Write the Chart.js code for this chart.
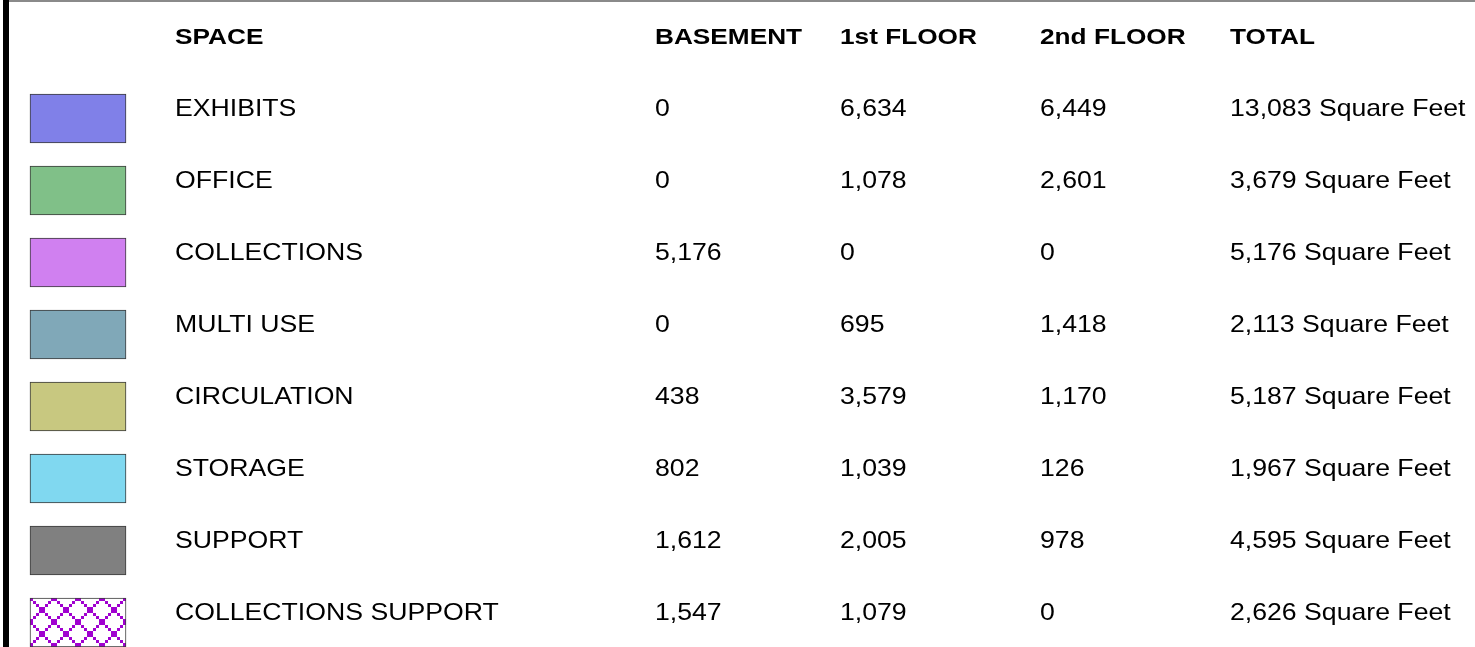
<!DOCTYPE html>
<html>
<head>
<meta charset="utf-8">
<script src="https://cdn.jsdelivr.net/npm/chart.js@4.4.1/dist/chart.umd.min.js"></script>
<style>
html,body{margin:0;padding:0;background:#ffffff;overflow:hidden}
canvas{display:block}
</style>
</head>
<body>
<canvas id="c" width="1475" height="647"></canvas>
<script>
// ---- data ----
const columnHeaders = ['SPACE', 'BASEMENT', '1st FLOOR', '2nd FLOOR', 'TOTAL'];
const spaces = ['EXHIBITS', 'OFFICE', 'COLLECTIONS', 'MULTI USE', 'CIRCULATION', 'STORAGE', 'SUPPORT', 'COLLECTIONS SUPPORT'];
const basement    = [0, 0, 5176, 0, 438, 802, 1612, 1547];
const firstFloor  = [6634, 1078, 0, 695, 3579, 1039, 2005, 1079];
const secondFloor = [6449, 2601, 0, 1418, 1170, 126, 978, 0];
const total       = [13083, 3679, 5176, 2113, 5187, 1967, 4595, 2626];
const totalUnit = 'Square Feet';

// ---- styles ----
const swatchColors = ['#8080E8', '#80C088', '#D080F0', '#80A8B8', '#C8C880', '#80D8F0', '#808080', 'pattern'];

function makeLattice() {
  const p = document.createElement('canvas');
  p.width = 24; p.height = 24;
  const g = p.getContext('2d');
  g.fillStyle = '#ffffff';
  g.fillRect(0, 0, 24, 24);
  g.fillStyle = '#A000D0';
  for (let i = 0; i < 8; i++) {
    g.fillRect(i * 3, i * 3, 3, 3);
    g.fillRect(21 - i * 3, i * 3, 3, 3);
  }
  const ctx = document.getElementById('c').getContext('2d');
  const pat = ctx.createPattern(p, 'repeat');
  if (pat.setTransform) pat.setTransform(new DOMMatrix().translateSelf(30, 598));
  return pat;
}
const lattice = makeLattice();

const layoutCfg = {
  columnX: [175, 655, 840, 1040, 1230],
  regularFont: '24px "Liberation Sans", Arial, Helvetica, sans-serif',
  regularStretch: 1.11,
  boldFont: 'bold 22.5px "Liberation Sans", Arial, Helvetica, sans-serif',
  boldStretch: 1.165,
  baselineShift: -3
};

function fmt(n) { return n.toLocaleString('en-US'); }

function drawStretched(ctx, text, x, y, sx) {
  ctx.save();
  ctx.translate(x, y);
  ctx.scale(sx, 1);
  ctx.fillText(text, 0, 0);
  ctx.restore();
}

const framePlugin = {
  id: 'frame',
  beforeDraw(chart) {
    const ctx = chart.ctx;
    ctx.save();
    ctx.fillStyle = '#ffffff';
    ctx.fillRect(0, 0, chart.width, chart.height);
    ctx.fillStyle = '#8a8a8a';
    ctx.fillRect(9, 0, chart.width - 9, 2);
    ctx.fillStyle = '#000000';
    ctx.fillRect(3, 0, 6, chart.height);
    ctx.restore();
  }
};

const tablePlugin = {
  id: 'tableText',
  afterDraw(chart) {
    const ctx = chart.ctx;
    const y = chart.scales.y;
    const step = y.getPixelForValue(1) - y.getPixelForValue(0);
    const cx = layoutCfg.columnX;
    ctx.save();
    ctx.fillStyle = '#000000';
    ctx.textAlign = 'left';
    ctx.textBaseline = 'alphabetic';
    // header row
    ctx.font = layoutCfg.boldFont;
    const hy = y.getPixelForValue(0) - step + layoutCfg.baselineShift;
    columnHeaders.forEach((h, j) => drawStretched(ctx, h, cx[j], hy, layoutCfg.boldStretch));
    // body rows
    ctx.font = layoutCfg.regularFont;
    spaces.forEach((s, i) => {
      const ry = y.getPixelForValue(i) + layoutCfg.baselineShift;
      const cells = [s, fmt(basement[i]), fmt(firstFloor[i]), fmt(secondFloor[i]), fmt(total[i]) + ' ' + totalUnit];
      cells.forEach((t, j) => drawStretched(ctx, t, cx[j], ry, layoutCfg.regularStretch));
    });
    ctx.restore();
  }
};

new Chart(document.getElementById('c'), {
  type: 'bar',
  data: {
    labels: spaces,
    datasets: [{
      data: spaces.map(() => 1),
      backgroundColor: swatchColors.map(c => c === 'pattern' ? lattice : c),
      borderColor: '#3a3a3a',
      borderWidth: 1,
      borderSkipped: false,
      barThickness: 49,
      clip: false
    }]
  },
  options: {
    indexAxis: 'y',
    responsive: false,
    animation: false,
    events: [],
    layout: { padding: { left: 30, right: 1349, top: 118.5, bottom: 24.5 } },
    scales: {
      x: { display: false, min: 0, max: 1 },
      y: { display: false, offset: false }
    },
    plugins: { legend: { display: false }, tooltip: { enabled: false } }
  },
  plugins: [framePlugin, tablePlugin]
});
</script>
</body>
</html>
